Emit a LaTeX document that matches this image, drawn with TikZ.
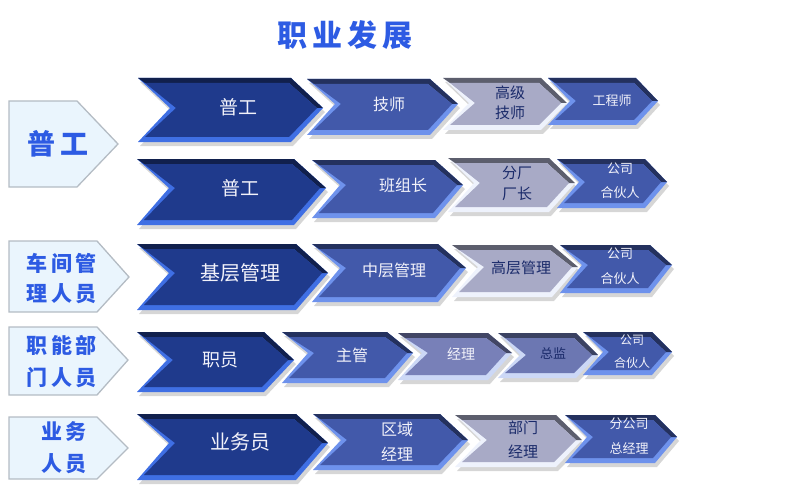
\documentclass[tikz,border=0pt]{standalone}
\usepackage{fontspec}
\newfontfamily\cjk{Noto Sans CJK SC}
\definecolor{dkmain}{HTML}{1F3A8C}
\definecolor{dkedge}{HTML}{3F6FE4}
\definecolor{dktop}{HTML}{0E1C4C}
\definecolor{mdmain}{HTML}{4259AA}
\definecolor{mdedge}{HTML}{6E92EC}
\definecolor{mdtop}{HTML}{1A2A66}
\definecolor{grmain}{HTML}{A8AAC6}
\definecolor{gredge}{HTML}{EEF2FC}
\definecolor{grtop}{HTML}{50546A}
\definecolor{slmain}{HTML}{7880B8}
\definecolor{sledge}{HTML}{CCD8F6}
\definecolor{sl2main}{HTML}{6C77B2}
\definecolor{txtlight}{HTML}{F2F2FA}
\definecolor{txtdark}{HTML}{1A2A6A}
\definecolor{lblfill}{HTML}{EAF5FD}
\definecolor{lbldraw}{HTML}{B4BCC4}
\definecolor{lbltext}{HTML}{2D5BE3}
% #1 name, #2 L, #3 T, #4 tipX, #5 tipY, #6 B, #7 depth, #8 main, #9 edge
\newcommand{\mychev}[9]{%
  \fill[black,opacity=0.16] (#2+2,#3+4) -- (#4-#7+2,#3+4) -- (#4+2,#5+4) -- (#4-#7+2,#6+4) -- (#2+2,#6+4) -- (#2+#7+2,#5+4) -- cycle;
  \fill[#9] (#2,#3) -- (#4-#7,#3) -- (#4,#5) -- (#4-#7,#6) -- (#2,#6) -- (#2+#7,#5) -- cycle;
  \fill[#8!55!black] (#2,#3) -- (#4-#7,#3) -- (#4,#5) -- (#4-6,#5) -- (#4-#7-2,#3+5) -- (#2+7,#3+5) -- cycle;
  \fill[#8] (#2+7,#3+5) -- (#4-#7-2,#3+5) -- (#4-6,#5) -- (#4-#7-2,#6-5) -- (#2+7,#6-5) -- (#2+#7+6,#5) -- cycle;
  \coordinate (#1) at ({(#2+#7+#4)/2},#5);
}
% #1 name, #2 L, #3 T, #4 bodyR, #5 tipX, #6 tipY, #7 B
\newcommand{\mylbl}[7]{%
  \draw[fill=lblfill,draw=lbldraw,line width=1.3pt] (#2,#3) -- (#4,#3) -- (#5,#6) -- (#4,#7) -- (#2,#7) -- cycle;
  \coordinate (#1) at ({(#2+#4)/2},#6);
}
\tikzset{
  lt/.style={text=txtlight,font=\cjk,align=center,inner sep=0pt},
  dt/.style={text=txtdark,font=\cjk,align=center,inner sep=0pt},
  lb/.style={text=lbltext,font=\cjk\bfseries,align=center,inner sep=0pt},
}
\begin{document}
\begin{tikzpicture}[x=1pt,y=-1pt]
\useasboundingbox (0,0) rectangle (800,500);
% title
\node[lb,font=\cjk\bfseries\fontsize{30}{32}\selectfont] (title) at (345,35) {职\,业\,发\,展};
% labels
\mylbl{l1}{9}{101}{77}{118}{144}{187}
\mylbl{l2}{9}{241}{97}{129}{277}{312}
\mylbl{l3}{9}{327}{97}{128}{360}{395}
\mylbl{l4}{9}{417}{97}{128}{448}{479}
\node[lb,font=\cjk\bfseries\fontsize{28}{30}\selectfont] (t-l1) at (58,144) {普\,工};
\node[lb,font=\cjk\bfseries\fontsize{21}{30}\selectfont] (t-l2) at (62,279) {车\,间\,管\\理\,人\,员};
\node[lb,font=\cjk\bfseries\fontsize{21}{32}\selectfont] (t-l3) at (62,362) {职\,能\,部\\门\,人\,员};
\node[lb,font=\cjk\bfseries\fontsize{21}{32}\selectfont] (t-l4) at (64,448) {业\,务\\人\,员};
% row 1
\mychev{a1}{138}{78}{323}{108}{142}{32}{dkmain}{dkedge}
\mychev{b1}{307}{79}{458}{104}{135}{28}{mdmain}{mdedge}
\mychev{c1}{443}{78}{567}{103}{130}{26}{grmain}{gredge}
\mychev{d1}{548}{78}{658}{101}{125}{22}{mdmain}{mdedge}
\node[lt,font=\cjk\fontsize{19}{21}\selectfont] (t-a1) at (238,107) {普工};
\node[lt,font=\cjk\fontsize{16}{18}\selectfont] (t-b1) at (389,104) {技师};
\node[dt,font=\cjk\fontsize{15}{20}\selectfont] (t-c1) at (510,103) {高级\\技师};
\node[lt,font=\cjk\fontsize{13}{15}\selectfont] (t-d1) at (612,101) {工程师};
% row 2
\mychev{a2}{137}{159}{326}{188}{225}{32}{dkmain}{dkedge}
\mychev{b2}{312}{160}{463}{185}{218}{28}{mdmain}{mdedge}
\mychev{c2}{448}{158}{575}{183}{212}{26}{grmain}{gredge}
\mychev{d2}{557}{159}{667}{182}{208}{22}{mdmain}{mdedge}
\node[lt,font=\cjk\fontsize{19}{21}\selectfont] (t-a2) at (240,188) {普工};
\node[lt,font=\cjk\fontsize{16}{18}\selectfont] (t-b2) at (403,185) {班组长};
\node[dt,font=\cjk\fontsize{15}{21}\selectfont] (t-c2) at (517,183) {分厂\\厂长};
\node[lt,font=\cjk\fontsize{13}{24}\selectfont] (t-d2) at (620,181) {公司\\合伙人};
% row 3
\mychev{a3}{137}{244}{328}{273}{310}{32}{dkmain}{dkedge}
\mychev{b3}{312}{244}{466}{268}{302}{28}{mdmain}{mdedge}
\mychev{c3}{452}{245}{578}{267}{297}{26}{grmain}{gredge}
\mychev{d3}{560}{245}{672}{265}{293}{22}{mdmain}{mdedge}
\node[lt,font=\cjk\fontsize{20}{22}\selectfont] (t-a3) at (240,273) {基层管理};
\node[lt,font=\cjk\fontsize{16}{18}\selectfont] (t-b3) at (394,270) {中层管理};
\node[dt,font=\cjk\fontsize{15}{17}\selectfont] (t-c3) at (521,268) {高层管理};
\node[lt,font=\cjk\fontsize{13}{25}\selectfont] (t-d3) at (620,266) {公司\\合伙人};
% row 4
\mychev{a4}{137}{332}{294}{360}{392}{30}{dkmain}{dkedge}
\mychev{b4}{282}{332}{413}{353}{383}{26}{mdmain}{mdedge}
\mychev{c4}{398}{333}{512}{353}{380}{24}{slmain}{sledge}
\mychev{d4}{498}{333}{598}{355}{378}{22}{sl2main}{sledge}
\mychev{e4}{583}{332}{672}{352}{375}{20}{mdmain}{mdedge}
\node[lt,font=\cjk\fontsize{18}{20}\selectfont] (t-a4) at (220,360) {职员};
\node[lt,font=\cjk\fontsize{16}{18}\selectfont] (t-b4) at (352,355) {主管};
\node[lt,font=\cjk\fontsize{14}{16}\selectfont] (t-c4) at (461,354) {经理};
\node[dt,font=\cjk\fontsize{13}{15}\selectfont] (t-d4) at (553,353) {总监};
\node[lt,font=\cjk\fontsize{12}{23}\selectfont] (t-e4) at (632,352) {公司\\合伙人};
% row 5
\mychev{a5}{137}{414}{328}{443}{480}{32}{dkmain}{dkedge}
\mychev{b5}{313}{414}{468}{440}{470}{28}{mdmain}{mdedge}
\mychev{c5}{455}{415}{582}{440}{467}{26}{grmain}{gredge}
\mychev{d5}{565}{415}{677}{437}{463}{22}{mdmain}{mdedge}
\node[lt,font=\cjk\fontsize{20}{22}\selectfont] (t-a5) at (240,442) {业务员};
\node[lt,font=\cjk\fontsize{16}{25}\selectfont] (t-b5) at (397,442) {区域\\经理};
\node[dt,font=\cjk\fontsize{15}{24}\selectfont] (t-c5) at (523,440) {部门\\经理};
\node[lt,font=\cjk\fontsize{13}{25}\selectfont] (t-d5) at (629,436) {分公司\\总经理};
\end{tikzpicture}
\end{document}
